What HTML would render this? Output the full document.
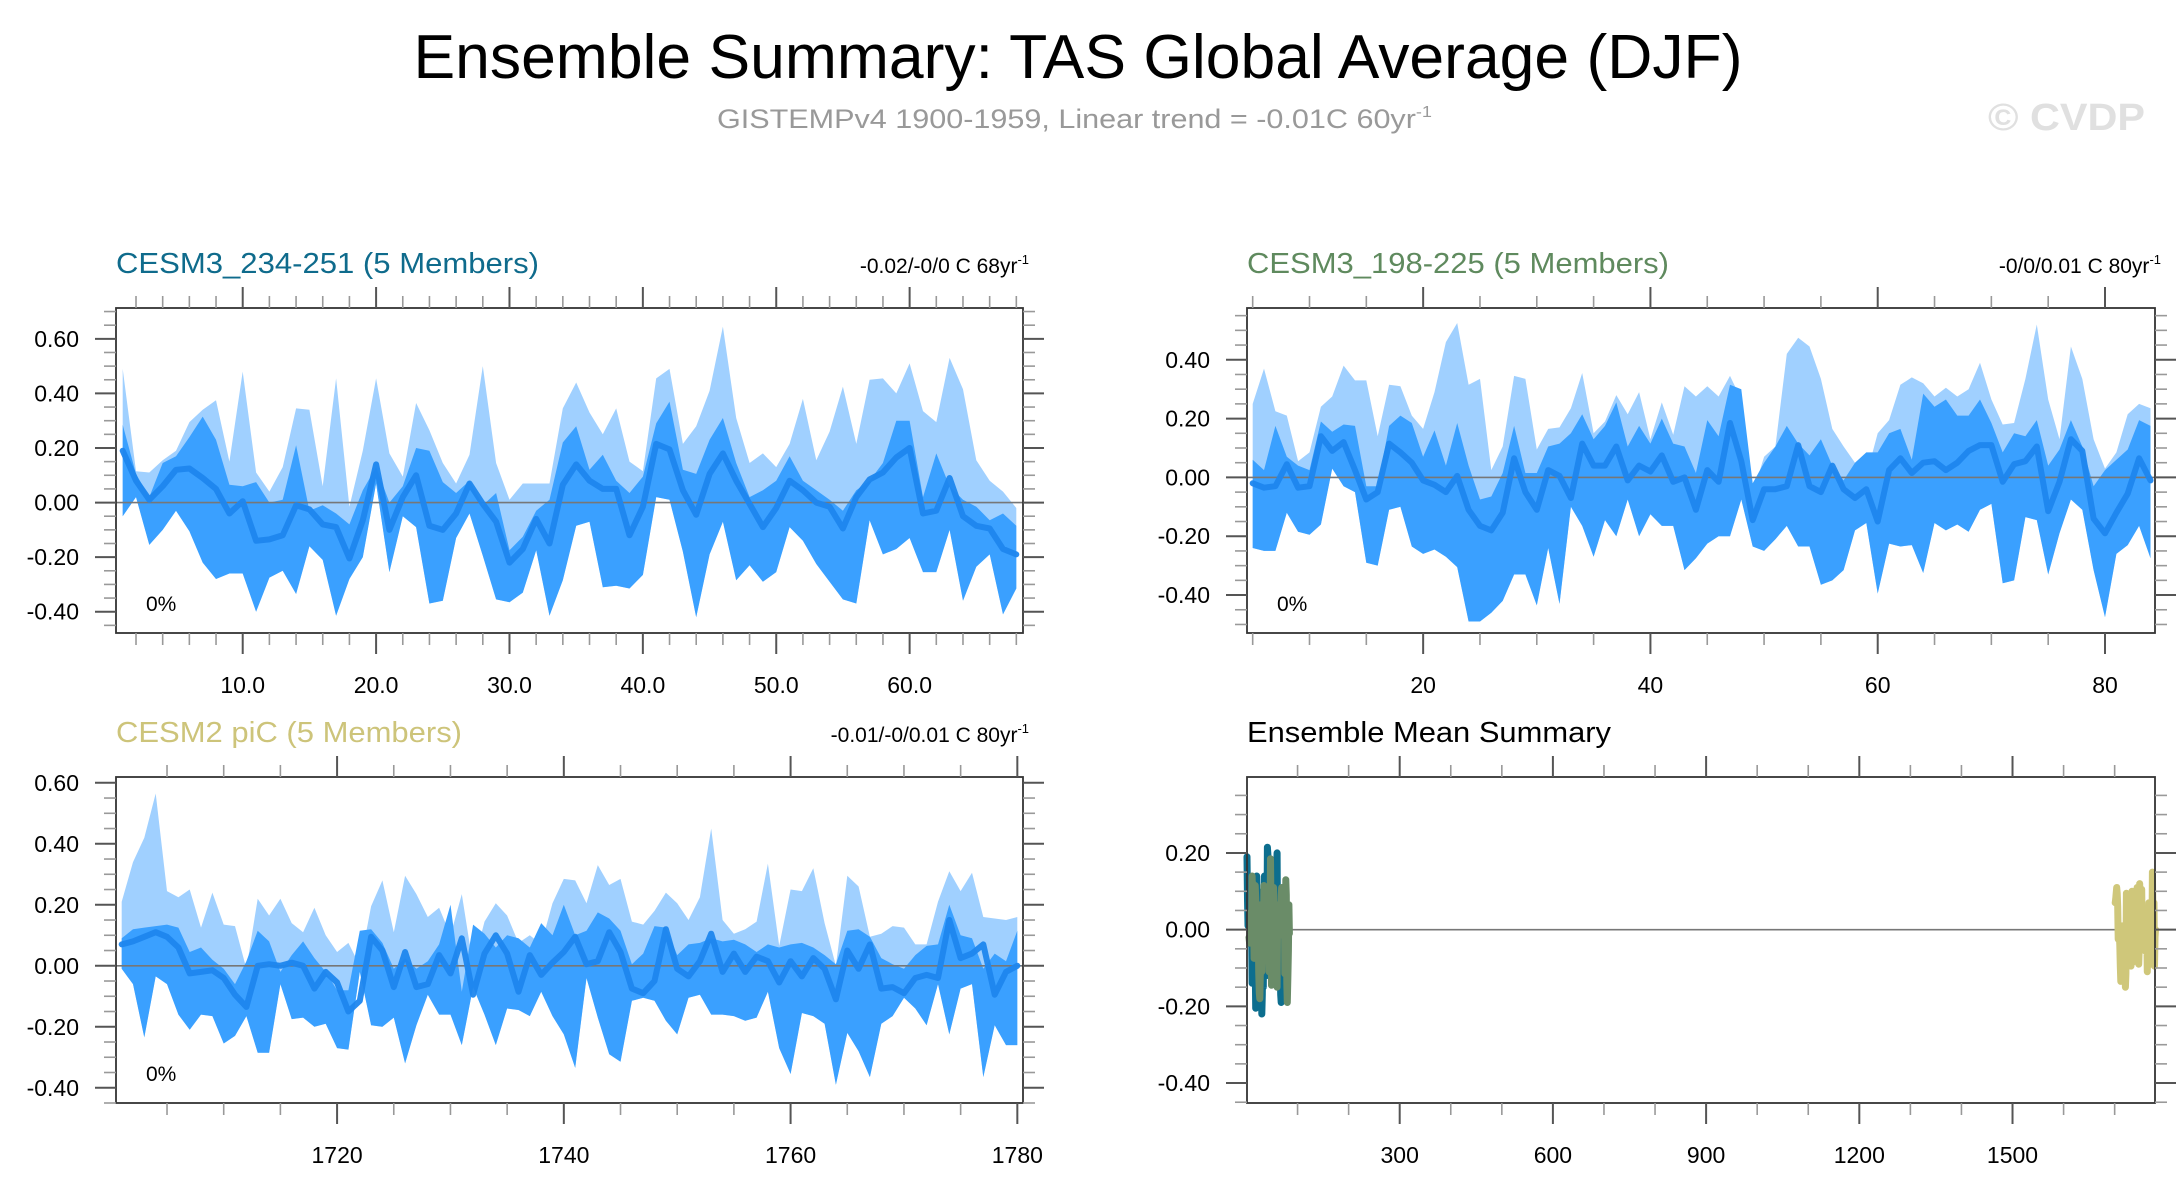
<!DOCTYPE html>
<html><head><meta charset="utf-8"><title>Ensemble Summary: TAS Global Average (DJF)</title>
<style>html,body{margin:0;padding:0;background:#fff;}svg{display:block;font-family:"Liberation Sans",Arial,sans-serif;}</style>
</head><body>
<svg id="chart" xmlns="http://www.w3.org/2000/svg" width="2184" height="1189" viewBox="0 0 2184 1189">
<rect x="0" y="0" width="2184" height="1189" fill="#fff"/>
<text x="1078" y="78" text-anchor="middle" font-size="62" textLength="1329" lengthAdjust="spacingAndGlyphs" fill="#000">Ensemble Summary: TAS Global Average (DJF)</text>
<text x="717" y="128" font-size="27" textLength="715" lengthAdjust="spacingAndGlyphs" fill="#999">GISTEMPv4 1900-1959, Linear trend = -0.01C 60yr<tspan dy="-11" font-size="16">-1</tspan></text>
<text x="1988" y="130" font-size="38" font-weight="bold" textLength="157" lengthAdjust="spacingAndGlyphs" fill="#e0e0e0">© CVDP</text>
</svg>
<script>
// ---------- data ----------
const p1Start = 1;
const p1Mean = [0.19,0.08,0.01,0.06,0.12,0.125,0.09,0.05,-0.04,0.005,-0.14,-0.135,-0.12,-0.01,-0.025,-0.08,-0.09,-0.205,-0.065,0.14,-0.10,0.02,0.10,-0.085,-0.10,-0.04,0.07,-0.005,-0.07,-0.22,-0.17,-0.06,-0.15,0.065,0.14,0.08,0.05,0.05,-0.12,-0.015,0.215,0.195,0.045,-0.045,0.105,0.18,0.08,-0.005,-0.09,-0.02,0.08,0.045,0.0,-0.015,-0.095,0.02,0.085,0.11,0.165,0.2,-0.04,-0.03,0.09,-0.05,-0.085,-0.095,-0.17,-0.19];
const p1Max = [0.49,0.115,0.11,0.155,0.19,0.295,0.34,0.375,0.15,0.48,0.11,0.04,0.13,0.345,0.34,0.06,0.455,-0.015,0.19,0.455,0.18,0.095,0.365,0.265,0.145,0.07,0.175,0.5,0.145,0.01,0.07,0.07,0.07,0.345,0.44,0.33,0.25,0.345,0.15,0.115,0.455,0.49,0.215,0.28,0.41,0.645,0.31,0.145,0.18,0.13,0.215,0.38,0.155,0.26,0.425,0.215,0.45,0.455,0.40,0.51,0.335,0.295,0.53,0.415,0.155,0.08,0.04,-0.02];
const p1Min = [-0.05,0.02,-0.155,-0.10,-0.03,-0.105,-0.22,-0.28,-0.26,-0.26,-0.40,-0.275,-0.25,-0.335,-0.16,-0.21,-0.415,-0.28,-0.20,0.07,-0.255,-0.05,-0.09,-0.37,-0.36,-0.13,-0.04,-0.195,-0.355,-0.365,-0.33,-0.175,-0.415,-0.285,-0.085,-0.07,-0.31,-0.305,-0.315,-0.265,0.02,0.01,-0.18,-0.42,-0.19,-0.07,-0.285,-0.23,-0.29,-0.255,-0.09,-0.14,-0.225,-0.29,-0.355,-0.37,-0.065,-0.19,-0.17,-0.13,-0.255,-0.255,-0.10,-0.36,-0.235,-0.19,-0.41,-0.315];
const p1Inner = [0.285,0.105,0.02,0.145,0.17,0.24,0.315,0.23,0.065,0.06,0.075,0.0,0.01,0.21,-0.03,-0.01,-0.04,-0.08,0.045,0.13,0.0,0.06,0.2,0.19,0.075,0.035,0.08,-0.01,0.035,-0.175,-0.125,-0.03,0.01,0.22,0.28,0.12,0.175,0.08,0.035,0.095,0.29,0.37,0.12,0.105,0.23,0.31,0.145,0.02,0.045,0.08,0.17,0.08,0.045,0.01,-0.03,0.045,0.08,0.145,0.3,0.3,0.02,0.18,0.06,0.01,-0.015,-0.065,-0.04,-0.085];

const p2Start = 5;
const p2Mean = [-0.02,-0.035,-0.03,0.045,-0.035,-0.03,0.14,0.09,0.12,0.025,-0.075,-0.05,0.115,0.085,0.05,-0.01,-0.025,-0.05,0.005,-0.11,-0.165,-0.18,-0.12,0.065,-0.05,-0.11,0.025,0.005,-0.07,0.115,0.04,0.04,0.105,-0.01,0.04,0.02,0.075,-0.015,0.0,-0.11,0.025,-0.015,0.185,0.055,-0.145,-0.04,-0.04,-0.03,0.11,-0.03,-0.05,0.04,-0.04,-0.07,-0.04,-0.15,0.025,0.065,0.015,0.05,0.055,0.025,0.05,0.09,0.11,0.11,-0.015,0.045,0.055,0.105,-0.115,-0.015,0.13,0.09,-0.14,-0.19,-0.12,-0.055,0.065,-0.01];
const p2Max = [0.25,0.37,0.225,0.21,0.055,0.085,0.24,0.275,0.38,0.33,0.33,0.14,0.315,0.31,0.21,0.165,0.29,0.46,0.525,0.315,0.335,0.025,0.105,0.345,0.335,0.095,0.165,0.17,0.235,0.355,0.15,0.19,0.28,0.215,0.29,0.13,0.255,0.145,0.31,0.275,0.31,0.275,0.345,0.265,-0.055,0.07,0.105,0.42,0.475,0.445,0.335,0.165,0.105,0.05,0.005,0.15,0.195,0.315,0.34,0.32,0.275,0.305,0.275,0.3,0.39,0.265,0.18,0.185,0.335,0.52,0.265,0.13,0.445,0.335,0.13,0.03,0.085,0.215,0.25,0.235];
const p2Min = [-0.24,-0.25,-0.25,-0.12,-0.185,-0.195,-0.16,0.03,-0.03,-0.05,-0.29,-0.3,-0.11,-0.1,-0.235,-0.26,-0.245,-0.27,-0.305,-0.49,-0.49,-0.46,-0.42,-0.33,-0.33,-0.435,-0.24,-0.43,-0.1,-0.165,-0.27,-0.145,-0.2,-0.075,-0.2,-0.125,-0.165,-0.165,-0.315,-0.275,-0.225,-0.2,-0.2,-0.075,-0.235,-0.25,-0.21,-0.165,-0.235,-0.235,-0.365,-0.35,-0.315,-0.18,-0.155,-0.395,-0.225,-0.235,-0.23,-0.325,-0.155,-0.18,-0.16,-0.185,-0.11,-0.09,-0.36,-0.35,-0.135,-0.145,-0.33,-0.19,-0.075,-0.11,-0.315,-0.475,-0.26,-0.23,-0.165,-0.275];
const p2Inner = [0.06,0.025,0.175,0.07,0.04,0.025,0.19,0.155,0.18,0.175,-0.03,-0.03,0.175,0.21,0.185,0.07,0.16,0.04,0.185,0.04,-0.075,-0.065,0.015,0.175,0.015,0.015,0.105,0.115,0.15,0.215,0.13,0.175,0.255,0.105,0.175,0.115,0.2,0.115,0.105,0.015,0.195,0.14,0.315,0.3,-0.02,0.05,0.105,0.175,0.115,0.075,0.13,0.04,-0.01,0.05,0.085,0.085,0.15,0.165,0.06,0.285,0.24,0.265,0.21,0.21,0.265,0.185,0.085,0.15,0.14,0.195,0.04,0.095,0.195,0.105,-0.03,0.025,0.06,0.095,0.195,0.175];

const p3Start = 1701;
const p3Mean = [0.07,0.08,0.095,0.11,0.095,0.06,-0.025,-0.02,-0.015,-0.04,-0.095,-0.135,0.0,0.005,0.0,0.01,0.0,-0.075,-0.02,-0.055,-0.15,-0.115,0.095,0.05,-0.07,0.045,-0.07,-0.06,0.035,-0.025,0.09,-0.095,0.04,0.1,0.04,-0.085,0.035,-0.03,0.01,0.045,0.095,0.005,0.015,0.11,0.045,-0.075,-0.09,-0.05,0.12,-0.01,-0.035,0.015,0.105,-0.02,0.04,-0.02,0.03,0.015,-0.055,0.015,-0.035,0.025,-0.01,-0.11,0.05,-0.01,0.07,-0.075,-0.07,-0.09,-0.04,-0.03,-0.04,0.15,0.025,0.04,0.07,-0.095,-0.02,0.0];
const p3Max = [0.21,0.34,0.42,0.565,0.245,0.225,0.25,0.125,0.24,0.135,0.13,-0.01,0.22,0.165,0.22,0.14,0.11,0.19,0.1,0.045,0.075,0.0,0.195,0.28,0.11,0.295,0.235,0.16,0.19,0.1,0.235,0.0,0.145,0.205,0.165,0.075,0.1,0.07,0.205,0.285,0.28,0.205,0.33,0.265,0.285,0.145,0.135,0.18,0.24,0.205,0.15,0.225,0.45,0.15,0.105,0.12,0.145,0.335,0.065,0.25,0.245,0.32,0.14,0.0,0.295,0.26,0.095,0.105,0.13,0.125,0.07,0.07,0.21,0.31,0.245,0.305,0.16,0.155,0.15,0.16];
const p3Min = [-0.01,-0.06,-0.235,-0.035,-0.06,-0.16,-0.21,-0.16,-0.165,-0.255,-0.23,-0.165,-0.285,-0.285,-0.06,-0.175,-0.17,-0.2,-0.19,-0.27,-0.275,-0.02,-0.195,-0.2,-0.17,-0.32,-0.195,-0.095,-0.16,-0.16,-0.26,-0.07,-0.16,-0.26,-0.14,-0.145,-0.165,-0.085,-0.165,-0.225,-0.335,-0.04,-0.17,-0.29,-0.315,-0.115,-0.105,-0.115,-0.18,-0.225,-0.105,-0.095,-0.16,-0.16,-0.165,-0.18,-0.17,-0.085,-0.27,-0.355,-0.155,-0.165,-0.19,-0.39,-0.22,-0.28,-0.365,-0.19,-0.165,-0.105,-0.14,-0.195,-0.06,-0.225,-0.075,-0.06,-0.365,-0.195,-0.26,-0.26];
const p3Inner = [0.09,0.12,0.125,0.13,0.135,0.125,0.045,0.06,0.02,-0.01,-0.06,0.015,0.115,0.08,-0.02,0.035,0.08,0.025,-0.02,-0.08,-0.08,0.115,0.12,0.075,-0.01,0.025,-0.01,0.015,0.07,0.2,-0.085,0.135,0.105,0.06,0.1,0.09,0.06,0.14,0.1,0.2,0.1,0.115,0.175,0.155,0.115,0.005,0.04,0.13,0.125,0.035,0.07,0.075,0.09,0.08,0.085,0.07,0.045,0.07,0.06,0.07,0.075,0.06,0.035,0.005,0.115,0.12,0.095,0.025,0.005,-0.01,0.035,0.065,0.07,0.2,0.1,0.09,-0.01,0.04,0.015,0.115];

// tick values
const p1XTicks = [10,20,30,40,50,60];
const p1XLabels = ["10.0","20.0","30.0","40.0","50.0","60.0"];
const p2XTicks = [20,40,60,80];
const p2XLabels = ["20","40","60","80"];
const p3XTicks = [1720,1740,1760,1780];
const p3XLabels = ["1720","1740","1760","1780"];
const p4XTicks = [300,600,900,1200,1500];
const p4XLabels = ["300","600","900","1200","1500"];
const p1YTicks = [-0.4,-0.2,0,0.2,0.4,0.6];
const p2YTicks = [-0.4,-0.2,0,0.2,0.4];
const p3YTicks = [-0.4,-0.2,0,0.2,0.4,0.6];
const p4YTicks = [-0.4,-0.2,0,0.2];

// ---------- drawing ----------
const NS = "http://www.w3.org/2000/svg";
const svg = document.getElementById("chart");
function el(tag, parent) { const e = document.createElementNS(NS, tag); parent.appendChild(e); return e; }
function fmtY(v) { return v.toFixed(2); }

function drawPanel(p) {
  const g = el("g", svg);
  
  
  const sx = v => p.x0 + (v - p.xd[0]) / (p.xd[1] - p.xd[0]) * (p.x1 - p.x0);
  const sy = v => p.y1 - (v - p.yd[0]) / (p.yd[1] - p.yd[0]) * (p.y1 - p.y0);

  if (p.max) {
    const xs = p.max.map((_, i) => p.start + i);
    let pts = xs.map((x, i) => sx(x).toFixed(1) + "," + sy(p.max[i]).toFixed(1));
    for (let i = xs.length - 1; i >= 0; i--) pts.push(sx(xs[i]).toFixed(1) + "," + sy(p.min[i]).toFixed(1));
    const light = el("polygon", g);
    light.setAttribute("points", pts.join(" "));
    light.setAttribute("fill", "#a0d0ff");
    
    
    let pts2 = xs.map((x, i) => sx(x).toFixed(1) + "," + sy(p.inner[i]).toFixed(1));
    for (let i = xs.length - 1; i >= 0; i--) pts2.push(sx(xs[i]).toFixed(1) + "," + sy(p.min[i]).toFixed(1));
    const dark = el("polygon", g);
    dark.setAttribute("points", pts2.join(" "));
    dark.setAttribute("fill", "#3aa0ff");
    
    
  }
  const z = el("line", g);
  z.setAttribute("x1", p.x0); z.setAttribute("x2", p.x1);
  z.setAttribute("y1", sy(0)); z.setAttribute("y2", sy(0));
  z.setAttribute("stroke", "#777"); z.setAttribute("stroke-width", "1.6");
  
  
  (p.lines || []).forEach(ln => {
    const pl = el("polyline", g);
    pl.setAttribute("points", ln.data.map((v, i) => sx(ln.start + i).toFixed(1) + "," + sy(v).toFixed(1)).join(" "));
    pl.setAttribute("fill", "none");
    pl.setAttribute("stroke", ln.color);
    pl.setAttribute("stroke-width", ln.w);
    pl.setAttribute("stroke-linejoin", "round");
    pl.setAttribute("stroke-linecap", "round");
    if (ln.op) pl.setAttribute("stroke-opacity", ln.op);
    
    
  });
  const box = el("rect", g);
  box.setAttribute("x", p.x0); box.setAttribute("y", p.y0);
  box.setAttribute("width", p.x1 - p.x0); box.setAttribute("height", p.y1 - p.y0);
  box.setAttribute("fill", "none"); box.setAttribute("stroke", "#333"); box.setAttribute("stroke-width", "1.8");
  
  
  const tg = el("g", g);
  
  
  function tick(x1, y1, x2, y2, major) {
    const t = el("line", tg);
    t.setAttribute("x1", x1); t.setAttribute("y1", y1); t.setAttribute("x2", x2); t.setAttribute("y2", y2);
    t.setAttribute("stroke", major ? "#555" : "#999"); t.setAttribute("stroke-width", major ? "2" : "1.6");
  }
  const ML = 21, ml = 12;
  const xmStart = Math.ceil(p.xd[0] / p.xMinor) * p.xMinor;
  for (let v = xmStart; v <= p.xd[1] + 1e-9; v += p.xMinor) {
    const isMaj = p.xTicks.some(t => Math.abs(t - v) < 1e-6);
    const L = isMaj ? ML : ml; const X = sx(v);
    tick(X, p.y0, X, p.y0 - L, isMaj); tick(X, p.y1, X, p.y1 + L, isMaj);
  }
  const ymStart = Math.ceil(p.yd[0] / 0.05 - 1e-9) * 0.05;
  for (let v = ymStart; v <= p.yd[1] + 1e-9; v += 0.05) {
    const isMaj = p.yTicks.some(t => Math.abs(t - v) < 1e-6);
    const L = isMaj ? ML : ml; const Y = sy(v);
    tick(p.x0, Y, p.x0 - L, Y, isMaj); tick(p.x1, Y, p.x1 + L, Y, isMaj);
  }
  p.xTicks.forEach((v, i) => {
    const t = el("text", g);
    t.setAttribute("x", sx(v)); t.setAttribute("y", p.y1 + 60);
    t.setAttribute("text-anchor", "middle"); t.setAttribute("font-size", "23");
    t.textContent = p.xLabels[i];
    
    
  });
  p.yTicks.forEach(v => {
    const t = el("text", g);
    t.setAttribute("x", p.x0 - 37); t.setAttribute("y", sy(v) + 8);
    t.setAttribute("text-anchor", "end"); t.setAttribute("font-size", "23");
    t.textContent = fmtY(v);
    
    
  });
  const ti = el("text", g);
  ti.setAttribute("x", p.x0); ti.setAttribute("y", p.y0 - 35);
  ti.setAttribute("font-size", "29"); ti.setAttribute("fill", p.tColor);
  ti.setAttribute("textLength", p.tLen); ti.setAttribute("lengthAdjust", "spacingAndGlyphs");
  ti.textContent = p.title;
  
  
  if (p.trend) {
    const tr = el("text", g);
    tr.setAttribute("x", p.x1 + 6); tr.setAttribute("y", p.y0 - 35);
    tr.setAttribute("font-size", "21"); tr.setAttribute("text-anchor", "end");
    tr.textContent = p.trend;
    const sup = el("tspan", tr);
    sup.setAttribute("dy", "-9"); sup.setAttribute("font-size", "13");
    sup.textContent = "-1";
    
    
  }
  if (p.pct) {
    const pc = el("text", g);
    pc.setAttribute("x", p.x0 + 30); pc.setAttribute("y", p.y1 - 22);
    pc.setAttribute("font-size", "21");
    pc.textContent = "0%";
    
    
  }
}

const meanStyle = { color: "#1e86ee", w: 6, op: 0.95, name: "ensemble-mean-line" };
drawPanel({ name: "panel-cesm3-234-251", x0: 116, x1: 1023, y0: 308, y1: 633, xd: [0.5, 68.5], yd: [-0.478, 0.713],
  start: p1Start, max: p1Max, min: p1Min, inner: p1Inner,
  lines: [Object.assign({ data: p1Mean, start: p1Start }, meanStyle)],
  xTicks: p1XTicks, xLabels: p1XLabels, xMinor: 2, yTicks: p1YTicks,
  title: "CESM3_234-251 (5 Members)", tColor: "#0f6b8c", tLen: 423, trend: "-0.02/-0/0 C 68yr", pct: true });
drawPanel({ name: "panel-cesm3-198-225", x0: 1247, x1: 2155, y0: 308, y1: 633, xd: [4.5, 84.4], yd: [-0.529, 0.576],
  start: p2Start, max: p2Max, min: p2Min, inner: p2Inner,
  lines: [Object.assign({ data: p2Mean, start: p2Start }, meanStyle)],
  xTicks: p2XTicks, xLabels: p2XLabels, xMinor: 5, yTicks: p2YTicks,
  title: "CESM3_198-225 (5 Members)", tColor: "#5f8a5e", tLen: 422, trend: "-0/0/0.01 C 80yr", pct: true });
drawPanel({ name: "panel-cesm2-pic", x0: 116, x1: 1023, y0: 777, y1: 1103, xd: [1700.5, 1780.5], yd: [-0.45, 0.619],
  start: p3Start, max: p3Max, min: p3Min, inner: p3Inner,
  lines: [Object.assign({ data: p3Mean, start: p3Start }, meanStyle)],
  xTicks: p3XTicks, xLabels: p3XLabels, xMinor: 5, yTicks: p3YTicks,
  title: "CESM2 piC (5 Members)", tColor: "#cdc47a", tLen: 346, trend: "-0.01/-0/0.01 C 80yr", pct: true });
drawPanel({ name: "panel-ensemble-mean-summary", x0: 1247, x1: 2155, y0: 777, y1: 1103, xd: [1, 1779], yd: [-0.452, 0.398],
  lines: [
    { data: p1Mean, start: p1Start, color: "#0d6e8e", w: 7, name: "cesm3-234-251-mean" },
    { data: p2Mean, start: p2Start, color: "#6a8c68", w: 7, name: "cesm3-198-225-mean" },
    { data: p3Mean, start: p3Start, color: "#cfc77a", w: 7, name: "cesm2-pic-mean" }
  ],
  xTicks: p4XTicks, xLabels: p4XLabels, xMinor: 100, yTicks: p4YTicks,
  title: "Ensemble Mean Summary", tColor: "#000", tLen: 364, trend: null, pct: false });
</script>
</body></html>
